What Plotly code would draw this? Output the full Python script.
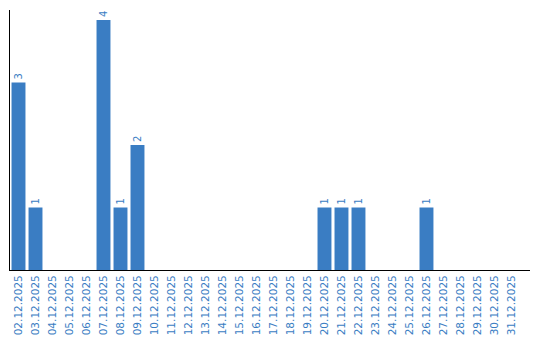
import plotly.graph_objects as go

dates = [f"{d:02d}.12.2025" for d in range(2, 32)]
counts_by_day = {"02": 3, "03": 1, "07": 4, "08": 1, "09": 2, "20": 1, "21": 1, "22": 1, "26": 1}
values = [counts_by_day.get(d[:2], 0) for d in dates]
labels = [str(v) if v else "" for v in values]

blue = "#3a7dc3"

fig = go.Figure(go.Bar(
    x=dates, y=values, text=labels,
    textposition="outside", textangle=-90,
    textfont=dict(family="DejaVu Sans", size=10, color=blue),
    marker=dict(color=blue, line=dict(width=0)),
    cliponaxis=False,
))
fig.update_layout(
    width=540, height=340,
    margin=dict(l=10, r=10, t=10, b=70),
    plot_bgcolor="white", paper_bgcolor="white",
    bargap=0.18, showlegend=False,
    font=dict(family="DejaVu Sans", size=10, color=blue),
)
fig.update_xaxes(
    type="category", range=[-0.5, 30.09], automargin=False,
    showline=True, linecolor="black", linewidth=1,
    showgrid=False, ticks="", tickangle=-90,
    tickfont=dict(family="DejaVu Sans", size=10.5, color=blue),
)
fig.update_yaxes(
    range=[0, 4.16], showline=True, linecolor="black", linewidth=1,
    showgrid=False, zeroline=False, showticklabels=False, ticks="",
    automargin=False,
)
fig.write_html("out.html")
